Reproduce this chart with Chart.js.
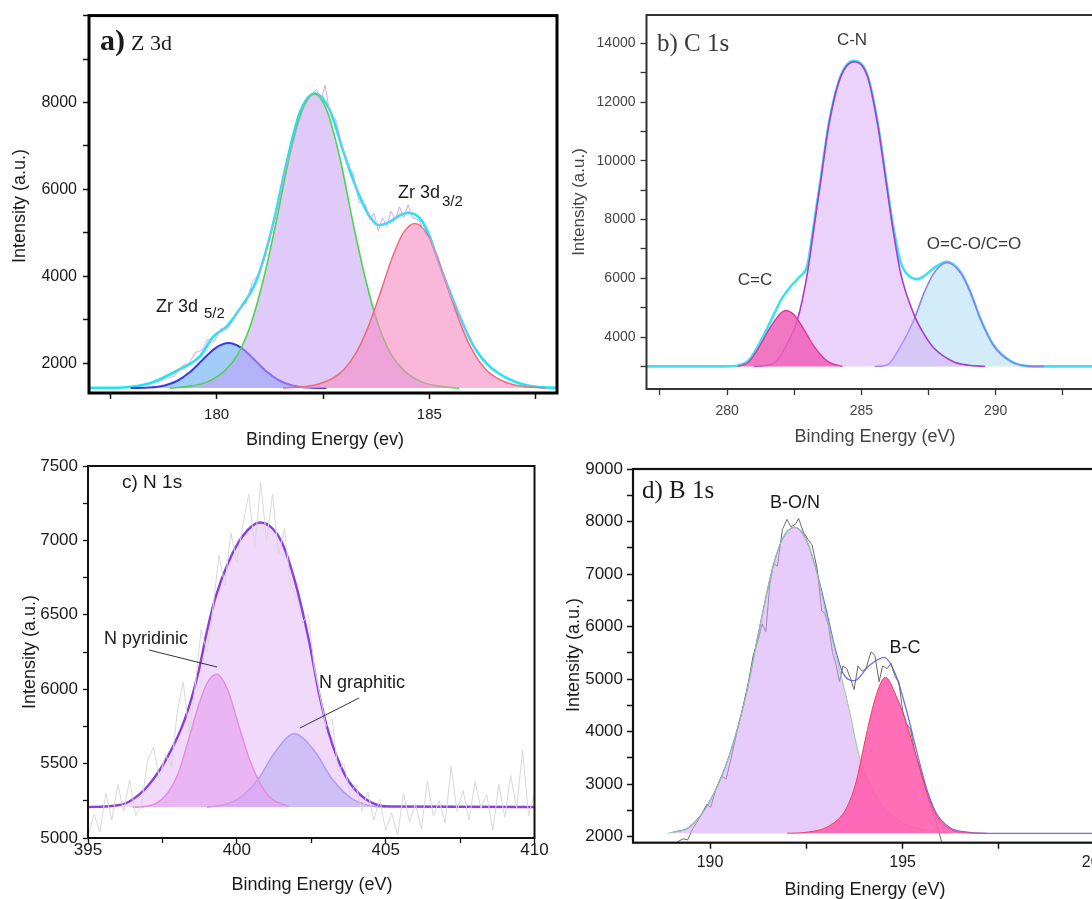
<!DOCTYPE html>
<html>
<head>
<meta charset="utf-8">
<script src="https://cdn.jsdelivr.net/npm/chart.js@4.4.1/dist/chart.umd.min.js"></script>
<style>
html, body { margin: 0; padding: 0; background: #fff; width: 1092px; height: 899px; overflow: hidden; position: relative; }
canvas { position: absolute; }
</style>
</head>
<body>
<canvas id="pa" width="565" height="450" style="left:0px;top:0px"></canvas>
<canvas id="pb" width="600" height="450" style="left:560px;top:0px"></canvas>
<canvas id="pc" width="560" height="449" style="left:0px;top:450px"></canvas>
<canvas id="pd" width="600" height="449" style="left:560px;top:450px"></canvas>
<script>
const SANS = '"Liberation Sans", Arial, sans-serif';
const SERIF = '"Liberation Serif", "Times New Roman", serif';

// ---- a) Zr 3d ----
const aBase = 1430;
const aXTicks = [177.5, 180, 182.5, 185, 187.5];
const aXLabels = [180, 185];
const aYTicks = [2000, 3000, 4000, 5000, 6000, 7000, 8000, 9000, 10000];
const aYLabels = [2000, 4000, 6000, 8000];
const aBlueX = [177.98, 178.38, 178.78, 179.08, 179.38, 179.68, 179.98, 180.28, 180.58, 180.88, 181.18, 181.48, 181.78, 182.18, 182.58];
const aBlueY = [1430, 1441, 1491, 1599, 1804, 2089, 2356, 2467, 2356, 2089, 1804, 1599, 1491, 1441, 1430];
const aMainX = [178.9, 179.3, 179.8, 180.2, 180.5, 180.8, 181.1, 181.4, 181.7, 182.0, 182.3, 182.6, 182.9, 183.2, 183.5, 183.8, 184.1, 184.4, 184.8, 185.3, 185.7];
const aMainY = [1430, 1464, 1579, 1836, 2209, 2886, 3935, 5255, 6711, 7794, 8200, 7794, 6711, 5255, 3935, 2886, 2209, 1836, 1579, 1464, 1430];
const aPinkX = [181.56, 181.9, 182.36, 182.73, 183.0, 183.28, 183.56, 183.83, 184.11, 184.38, 184.66, 184.94, 185.21, 185.49, 185.76, 186.04, 186.32, 186.59, 186.96, 187.42, 187.76];
const aPinkY = [1430, 1449, 1513, 1657, 1866, 2244, 2832, 3570, 4385, 4991, 5218, 4991, 4385, 3570, 2832, 2244, 1866, 1657, 1513, 1449, 1430];
const aEnvX = [177.0, 177.8, 178.43, 179.1, 179.6, 179.92, 180.23, 180.47, 180.94, 181.33, 181.64, 181.96, 182.31, 182.66, 182.97, 183.21, 183.4, 183.6, 183.8, 184.07, 184.3, 184.5, 184.78, 185.01, 185.17, 185.5, 185.86, 186.1, 186.36, 186.64, 187.06, 187.51, 188.0];
const aEnvY = [1435, 1445, 1540, 1846, 2152, 2611, 2841, 3149, 3915, 5218, 6598, 7780, 8207, 7823, 6900, 6214, 5754, 5370, 5179, 5255, 5400, 5462, 5333, 4910, 4451, 3600, 2750, 2300, 1980, 1760, 1560, 1460, 1435];
const aRawX = [178.6, 178.8, 179.0, 179.2, 179.35, 179.5, 179.65, 179.8, 179.95, 180.1, 180.25, 180.4, 180.55, 180.7, 180.85, 181.0, 181.15, 181.3, 181.45, 181.6, 181.75, 181.9, 182.05, 182.2, 182.35, 182.45, 182.55, 182.65, 182.8, 182.95, 183.1, 183.2, 183.35, 183.5, 183.6, 183.7, 183.8, 183.9, 184.0, 184.1, 184.2, 184.3, 184.4, 184.5, 184.6, 184.75, 184.9, 185.05, 185.2, 185.35, 185.5, 185.65, 185.8, 185.95, 186.1];
const aRawY = [1560, 1650, 1700, 1950, 2000, 2250, 2300, 2550, 2500, 2800, 2780, 3000, 3250, 3400, 3900, 4050, 4500, 5100, 5650, 6400, 6900, 7450, 7900, 8150, 8300, 8050, 8400, 7800, 7600, 7000, 6500, 6400, 5700, 5650, 5300, 5450, 5050, 5350, 5150, 5500, 5300, 5600, 5350, 5650, 5350, 5300, 5000, 4800, 4350, 4000, 3550, 3250, 2850, 2600, 2300];

// ---- b) C 1s ----
const bBase = 3000;
const bXTicks = [277.5, 280, 282.5, 285, 287.5, 290, 292.5, 295];
const bXLabels = [280, 285, 290, 295];
const bYTicks = [3000, 4000, 5000, 6000, 7000, 8000, 9000, 10000, 11000, 12000, 13000, 14000];
const bYLabels = [4000, 6000, 8000, 10000, 12000, 14000];
const bCCX = [280.4, 280.8, 281.13, 281.63, 282.0, 282.18, 282.49, 282.87, 283.24, 283.74, 284.3];
const bCCY = [3000, 3150, 3568, 4361, 4816, 4905, 4758, 4248, 3680, 3170, 3000];
const bCNX = [281.0, 281.4, 281.8, 282.2, 282.62, 282.99, 283.24, 283.49, 283.8, 284.23, 284.73, 285.23, 285.6, 285.91, 286.16, 286.46, 286.96, 287.3, 287.7, 288.45, 289.0, 289.6];
const bCNY = [3000, 3030, 3150, 3700, 4588, 6177, 7762, 9350, 11279, 12864, 13374, 12864, 11279, 9350, 7762, 6177, 4762, 4150, 3626, 3150, 3040, 3000];
const bOCX = [285.5, 285.97, 286.46, 286.96, 287.33, 287.7, 288.18, 288.7, 289.07, 289.44, 289.94, 290.56, 291.2, 291.8];
const bOCY = [3000, 3060, 3680, 4588, 5497, 6177, 6537, 6177, 5497, 4588, 3680, 3170, 3010, 3000];
const bEnvX = [277.0, 279.8, 280.4, 280.8, 281.13, 281.63, 282.0, 282.37, 282.7, 282.99, 283.24, 283.49, 283.8, 284.23, 284.73, 285.23, 285.6, 285.91, 286.16, 286.46, 286.75, 287.09, 287.4, 287.7, 288.18, 288.7, 289.07, 289.44, 289.94, 290.56, 291.2, 292.0, 295.0];
const bEnvY = [3000, 3000, 3030, 3200, 3650, 4550, 5250, 5721, 6050, 6450, 7900, 9420, 11330, 12880, 13400, 12900, 11330, 9420, 7900, 6550, 6100, 5973, 6120, 6350, 6560, 6200, 5500, 4600, 3700, 3180, 3010, 3000, 3000];

// ---- c) N 1s ----
const cBase = 5208;
const cXTicks = [395, 397.5, 400, 402.5, 405, 407.5, 410];
const cXLabels = [395, 400, 405, 410];
const cYTicks = [5000, 5250, 5500, 5750, 6000, 6250, 6500, 6750, 7000, 7250, 7500];
const cYLabels = [5000, 5500, 6000, 6500, 7000, 7500];
const cEnvX = [395.0, 395.8, 396.36, 397.03, 397.7, 398.26, 398.71, 398.99, 399.27, 399.72, 400.2, 400.78, 401.2, 401.51, 401.96, 402.41, 402.75, 403.08, 403.64, 404.31, 405.1, 410.0];
const cEnvY = [5208, 5215, 5242, 5354, 5555, 5802, 6116, 6384, 6609, 6855, 7030, 7120, 7080, 6989, 6720, 6339, 5981, 5712, 5421, 5264, 5212, 5208];
const cPyrX = [396.5, 397.03, 397.59, 398.04, 398.38, 398.71, 399.0, 399.33, 399.72, 400.06, 400.5, 401.07, 401.74];
const cPyrY = [5208, 5215, 5282, 5439, 5663, 5887, 6040, 6100, 5981, 5757, 5488, 5282, 5212];
const cGraX = [399.0, 399.5, 400.06, 400.73, 401.29, 401.93, 402.63, 403.19, 403.86, 404.54, 405.0];
const cGraY = [5208, 5222, 5265, 5400, 5579, 5700, 5579, 5400, 5265, 5215, 5208];
const cRawX = [395.0, 395.2, 395.4, 395.6, 395.8, 396.0, 396.2, 396.4, 396.6, 396.8, 397.0, 397.2, 397.4, 397.6, 397.8, 398.0, 398.2, 398.4, 398.6, 398.8, 399.0, 399.2, 399.4, 399.6, 399.8, 400.0, 400.2, 400.4, 400.6, 400.8, 401.0, 401.2, 401.4, 401.6, 401.8, 402.0, 402.2, 402.4, 402.6, 402.8, 403.0, 403.2, 403.4, 403.6, 403.8, 404.0, 404.2, 404.4, 404.6, 404.8, 405.0, 405.2, 405.4, 405.6, 405.8, 406.0, 406.2, 406.4, 406.6, 406.8, 407.0, 407.2, 407.4, 407.6, 407.8, 408.0, 408.2, 408.4, 408.6, 408.8, 409.0, 409.2, 409.4, 409.6, 409.8, 410.0];
const cRawY = [5010, 5160, 5040, 5300, 5120, 5360, 5180, 5390, 5150, 5230, 5520, 5610, 5400, 5560, 5480, 5850, 6050, 5700, 6020, 6400, 6250, 6550, 6900, 6700, 7050, 6850, 7100, 7310, 6950, 7390, 7000, 7310, 6900, 7080, 6700, 6620, 6450, 6500, 6150, 5950, 5750, 5800, 5450, 5500, 5300, 5360, 5180, 5310, 5120, 5260, 5050, 5170, 5020, 5300, 5110, 5230, 5060, 5380, 5150, 5250, 5100, 5480, 5180, 5320, 5120, 5380, 5200, 5290, 5050, 5360, 5140, 5420, 5200, 5590, 5150, 5300];

// ---- d) B 1s ----
const dBase = 2065;
const dXTicks = [190, 192.5, 195, 197.5, 200];
const dXLabels = [190, 195, 200];
const dYTicks = [2000, 2500, 3000, 3500, 4000, 4500, 5000, 5500, 6000, 6500, 7000, 7500, 8000, 8500, 9000];
const dYLabels = [2000, 3000, 4000, 5000, 6000, 7000, 8000, 9000];
const dBCX = [192.0, 192.49, 193.1, 193.53, 193.79, 193.96, 194.13, 194.31, 194.55, 194.83, 195.09, 195.35, 195.6, 195.86, 196.21, 196.73, 197.2];
const dBCY = [2065, 2084, 2210, 2528, 3036, 3607, 4178, 4685, 5035, 4685, 4178, 3543, 2908, 2432, 2160, 2070, 2065];
const dBONX = [188.9, 189.03, 189.46, 189.98, 190.5, 190.93, 191.28, 191.62, 191.88, 192.19, 192.49, 192.75, 193.01, 193.36, 193.61, 193.87, 194.13, 194.48, 195.0, 195.69, 196.2];
const dBONY = [2065, 2084, 2179, 2655, 3543, 4685, 5954, 7096, 7667, 7890, 7667, 7096, 6250, 5193, 4431, 3543, 3036, 2590, 2274, 2116, 2065];
const dEnvX = [189.03, 189.46, 189.98, 190.5, 190.93, 191.28, 191.62, 191.88, 192.19, 192.49, 192.75, 193.01, 193.23, 193.44, 193.74, 194.13, 194.52, 194.83, 195.09, 195.35, 195.6, 195.86, 196.21, 196.73, 197.5, 201.5];
const dEnvY = [2084, 2179, 2655, 3543, 4685, 5954, 7096, 7667, 7890, 7667, 7096, 6335, 5636, 5130, 4970, 5256, 5415, 5065, 4431, 3670, 2971, 2465, 2179, 2084, 2065, 2065];
const dRawX = [189.15, 189.3, 189.42, 189.55, 189.68, 189.8, 189.92, 190.02, 190.15, 190.3, 190.42, 190.55, 190.7, 190.85, 191.0, 191.12, 191.25, 191.35, 191.45, 191.55, 191.65, 191.75, 191.88, 192.0, 192.1, 192.22, 192.3, 192.42, 192.55, 192.65, 192.78, 192.9, 192.98, 193.08, 193.18, 193.28, 193.36, 193.45, 193.55, 193.65, 193.74, 193.84, 193.95, 194.05, 194.18, 194.28, 194.39, 194.48, 194.6, 194.7, 194.8, 194.9, 195.0, 195.1, 195.2, 195.32, 195.45, 195.58, 195.7, 195.82, 195.92, 196.02];
const dRawY = [1900, 1960, 1940, 2150, 2300, 2450, 2620, 2560, 2900, 3150, 3100, 3500, 4000, 4450, 4950, 5450, 5750, 6050, 5900, 6800, 7200, 7150, 7850, 8040, 7900, 7950, 8060, 7800, 7650, 7550, 7100, 6300, 6250, 6000, 5500, 5250, 4950, 5250, 5200, 5000, 4800, 5250, 5150, 5200, 5520, 5450, 4950, 5250, 5200, 5300, 5050, 4950, 4400, 4150, 4050, 3600, 3300, 2950, 2620, 2400, 2150, 1880];

function pts(xs, ys) {
    return xs.map((x, i) => ({x: x, y: ys[i]}));
}

function peak(xs, ys, base, fillColor, lineColor, width) {
    return {
        data: pts(xs, ys),
        fill: {value: base},
        backgroundColor: fillColor,
        borderColor: lineColor,
        borderWidth: width,
        pointRadius: 0,
        cubicInterpolationMode: 'monotone'
    };
}

function curve(xs, ys, lineColor, width, smooth) {
    return {
        data: pts(xs, ys),
        fill: false,
        borderColor: lineColor,
        borderWidth: width,
        pointRadius: 0,
        tension: 0,
        cubicInterpolationMode: smooth ? 'monotone' : 'default'
    };
}

function labelCb(list) {
    return function (v) {
        let hit = list.find(l => Math.abs(l - v) < 1e-6);
        return hit === undefined ? '' : String(hit);
    };
}

// frame, axis titles, peak names; text positions are page pixels
function decoPlugin(box, deco) {
    return {
        id: 'deco',
        afterDraw(chart) {
            const ctx = chart.ctx;
            const a = chart.chartArea;
            ctx.save();
            ctx.strokeStyle = deco.frameColor;
            ctx.lineWidth = deco.frameWidth;
            ctx.strokeRect(a.left, a.top, a.right - a.left, a.bottom - a.top);
            (deco.lines || []).forEach(l => {
                ctx.beginPath();
                ctx.strokeStyle = l.color;
                ctx.lineWidth = 1;
                ctx.moveTo(l.x1 - box.left, l.y1 - box.top);
                ctx.lineTo(l.x2 - box.left, l.y2 - box.top);
                ctx.stroke();
            });
            deco.texts.forEach(t => {
                ctx.save();
                ctx.font = t.font;
                ctx.fillStyle = t.color || deco.textColor;
                ctx.textAlign = t.align || 'left';
                ctx.textBaseline = t.baseline || 'alphabetic';
                ctx.translate(t.x - box.left, t.y - box.top);
                if (t.rot) ctx.rotate(t.rot);
                ctx.fillText(t.text, 0, 0);
                ctx.restore();
            });
            ctx.restore();
        }
    };
}

function makePanel(id, box, plot, xr, yr, datasets, st, deco) {
    let tickGrid = {
        display: true, drawOnChartArea: false, drawTicks: true,
        tickLength: st.tick, tickWidth: st.tickW, tickColor: st.tickColor
    };
    return new Chart(document.getElementById(id), {
        type: 'line',
        data: {datasets: datasets},
        options: {
            responsive: false,
            animation: false,
            devicePixelRatio: 1,
            layout: {
                autoPadding: false,
                padding: {left: 0, top: plot.top - box.top, right: box.left + box.w - plot.right, bottom: 0}
            },
            plugins: {legend: {display: false}, tooltip: {enabled: false}},
            scales: {
                x: {
                    type: 'linear', min: xr.min, max: xr.max, bounds: 'data',
                    afterFit: s => { s.height = box.top + box.h - plot.bottom; },
                    afterBuildTicks: s => { s.ticks = xr.ticks.map(v => ({value: v})); },
                    border: {display: false},
                    grid: tickGrid,
                    ticks: {
                        autoSkip: false, maxRotation: 0,
                        padding: st.xPad, color: st.labelColor,
                        font: {family: SANS, size: st.xSize},
                        callback: labelCb(xr.labels)
                    }
                },
                y: {
                    type: 'linear', min: yr.min, max: yr.max, bounds: 'data',
                    afterFit: s => { s.width = plot.left - box.left; },
                    afterBuildTicks: s => { s.ticks = yr.ticks.map(v => ({value: v})); },
                    border: {display: false},
                    grid: tickGrid,
                    ticks: {
                        autoSkip: false,
                        padding: st.yPad, color: st.labelColor,
                        font: {family: SANS, size: st.ySize},
                        callback: labelCb(yr.labels)
                    }
                }
            }
        },
        plugins: [decoPlugin(box, deco)]
    });
}

const UP = -Math.PI / 2;

// a)
makePanel('pa',
    {left: 0, top: 0, w: 565, h: 450},
    {left: 89, top: 15, right: 557, bottom: 393},
    {min: 177, max: 188, ticks: aXTicks, labels: aXLabels},
    {min: 1317, max: 10000, ticks: aYTicks, labels: aYLabels},
    [
        curve(aRawX, aRawY, 'rgba(205,160,240,0.9)', 1, false),
        peak(aPinkX, aPinkY, aBase, 'rgba(245,140,195,0.62)', '#f26a78', 1.5),
        peak(aMainX, aMainY, aBase, 'rgba(196,158,245,0.55)', '#4fd24f', 1.6),
        peak(aBlueX, aBlueY, aBase, 'rgba(105,175,248,0.62)', '#3b3be6', 2),
        curve(aEnvX, aEnvY, '#22e4f2', 2.6, true)
    ],
    {tick: 6, tickW: 1.5, tickColor: '#111', xPad: 7, yPad: 6, xSize: 15, ySize: 16, labelColor: '#1a1a1a'},
    {
        frameColor: '#000', frameWidth: 3, textColor: '#1a1a1a',
        texts: [
            {text: 'a)', x: 100, y: 50, font: 'bold 30px ' + SERIF},
            {text: 'Z 3d', x: 131, y: 50, font: '22px ' + SERIF},
            {text: 'Zr 3d', x: 156, y: 312, font: '18px ' + SANS},
            {text: '5/2', x: 204, y: 318, font: '15px ' + SANS},
            {text: 'Zr 3d', x: 398, y: 198, font: '18px ' + SANS},
            {text: '3/2', x: 442, y: 206, font: '15px ' + SANS},
            {text: 'Intensity (a.u.)', x: 20, y: 206, rot: UP, align: 'center', baseline: 'middle', font: '18px ' + SANS},
            {text: 'Binding Energy (ev)', x: 325, y: 440, align: 'center', baseline: 'middle', font: '18px ' + SANS}
        ]
    });

// b)
makePanel('pb',
    {left: 560, top: 0, w: 600, h: 450},
    {left: 646.5, top: 15, right: 1130, bottom: 389},
    {min: 277, max: 295, ticks: bXTicks, labels: bXLabels},
    {min: 2231, max: 14963, ticks: bYTicks, labels: bYLabels},
    [
        peak(bCCX, bCCY, bBase, 'rgba(240,95,185,0.85)', '#d83a95', 1.4),
        peak(bCNX, bCNY, bBase, 'rgba(215,165,245,0.5)', '#a83ccc', 1.6),
        peak(bOCX, bOCY, bBase, 'rgba(175,220,245,0.55)', '#8a80ee', 1.6),
        curve(bEnvX, bEnvY, '#3fe0f0', 2.6, true)
    ],
    {tick: 6, tickW: 1.3, tickColor: '#333', xPad: 8, yPad: 5, xSize: 14, ySize: 14, labelColor: '#444'},
    {
        frameColor: '#333', frameWidth: 2, textColor: '#3a3a3a',
        texts: [
            {text: 'b) C 1s', x: 657, y: 51, font: '25px ' + SERIF},
            {text: 'C-N', x: 852, y: 45, align: 'center', font: '17px ' + SANS},
            {text: 'C=C', x: 755, y: 285, align: 'center', font: '17px ' + SANS},
            {text: 'O=C-O/C=O', x: 974, y: 249, align: 'center', font: '17px ' + SANS},
            {text: 'Intensity (a.u.)', x: 579, y: 202, rot: UP, align: 'center', baseline: 'middle', font: '17px ' + SANS, color: '#444'},
            {text: 'Binding Energy (eV)', x: 875, y: 437, align: 'center', baseline: 'middle', font: '18px ' + SANS, color: '#444'}
        ]
    });

// c)
makePanel('pc',
    {left: 0, top: 450, w: 560, h: 449},
    {left: 88, top: 466, right: 534.5, bottom: 838},
    {min: 395, max: 410, ticks: cXTicks, labels: cXLabels},
    {min: 5000, max: 7500, ticks: cYTicks, labels: cYLabels},
    [
        curve(cRawX, cRawY, '#d8d8d8', 1, false),
        peak(cEnvX, cEnvY, cBase, 'rgba(225,180,245,0.5)', '#8b3fe0', 2.4),
        peak(cPyrX, cPyrY, cBase, 'rgba(232,130,232,0.55)', '#e56ac6', 1.5),
        peak(cGraX, cGraY, cBase, 'rgba(140,160,245,0.55)', '#8585e6', 1.5)
    ],
    {tick: 5, tickW: 1.3, tickColor: '#111', xPad: -3, yPad: 5, xSize: 17, ySize: 17, labelColor: '#1a1a1a'},
    {
        frameColor: '#111', frameWidth: 2, textColor: '#1a1a1a',
        lines: [
            {x1: 149, y1: 650, x2: 217, y2: 667, color: '#333'},
            {x1: 359, y1: 698, x2: 300, y2: 728, color: '#333'}
        ],
        texts: [
            {text: 'c) N 1s', x: 122, y: 488, font: '19px ' + SANS},
            {text: 'N pyridinic', x: 104, y: 644, font: '18px ' + SANS},
            {text: 'N graphitic', x: 319, y: 688, font: '18px ' + SANS},
            {text: 'Intensity (a.u.)', x: 30, y: 652, rot: UP, align: 'center', baseline: 'middle', font: '18px ' + SANS},
            {text: 'Binding Energy (eV)', x: 312, y: 885, align: 'center', baseline: 'middle', font: '18px ' + SANS}
        ]
    });

// d)
makePanel('pd',
    {left: 560, top: 450, w: 600, h: 449},
    {left: 633, top: 469, right: 1153, bottom: 842.7},
    {min: 188, max: 201.5, ticks: dXTicks, labels: dXLabels},
    {min: 1886, max: 9000, ticks: dYTicks, labels: dYLabels},
    [
        peak(dBCX, dBCY, dBase, 'rgba(255,95,175,0.9)', '#f03c5a', 1),
        peak(dBONX, dBONY, dBase, 'rgba(212,160,245,0.55)', '#8fd08f', 1),
        curve(dRawX, dRawY, '#6a6a6a', 1, false),
        curve(dEnvX, dEnvY, '#6e6ef2', 1.3, true)
    ],
    {tick: 6, tickW: 1.5, tickColor: '#111', xPad: 4, yPad: 4, xSize: 16, ySize: 17, labelColor: '#1a1a1a'},
    {
        frameColor: '#111', frameWidth: 2.2, textColor: '#1a1a1a',
        texts: [
            {text: 'd) B 1s', x: 642, y: 498, font: '25px ' + SERIF},
            {text: 'B-O/N', x: 795, y: 508, align: 'center', font: '18px ' + SANS},
            {text: 'B-C', x: 905, y: 653, align: 'center', font: '18px ' + SANS},
            {text: 'Intensity (a.u.)', x: 574, y: 655, rot: UP, align: 'center', baseline: 'middle', font: '18px ' + SANS},
            {text: 'Binding Energy (eV)', x: 865, y: 890, align: 'center', baseline: 'middle', font: '18px ' + SANS}
        ]
    });
</script>
</body>
</html>
